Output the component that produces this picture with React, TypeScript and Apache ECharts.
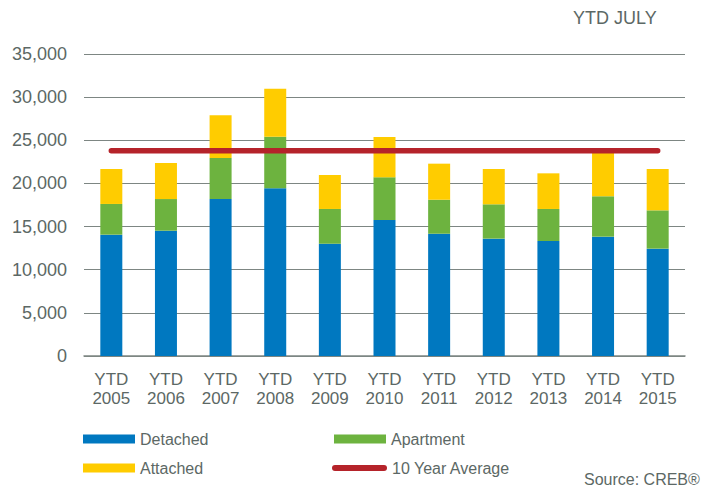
import React, { useEffect, useRef } from "react";
import * as echarts from "echarts";

const years = ["2005", "2006", "2007", "2008", "2009", "2010", "2011", "2012", "2013", "2014", "2015"];
const detached = [14060, 14520, 18190, 19430, 13010, 15760, 14170, 13600, 13330, 13830, 12440];
const apartment = [3560, 3670, 4760, 5980, 4030, 4950, 3940, 3980, 3710, 4680, 4440];
const attached = [4050, 4180, 4940, 5570, 3940, 4670, 4180, 4090, 4130, 5190, 4790];
const tenYearAverage = [23800, 23800, 23800, 23800, 23800, 23800, 23800, 23800, 23800, 23800, 23800];
const yTicks = { min: 0, max: 35000, interval: 5000 };

const TEXT = "#5c6865";
const FONT = "Liberation Sans, Arial, sans-serif";

export default function App() {
  const ref = useRef<HTMLDivElement>(null);
  useEffect(() => {
    if (!ref.current) return;
    const chart = echarts.init(ref.current, null, { renderer: "svg" });
    const legendBase = {
      orient: "horizontal" as const,
      padding: 0,
      itemWidth: 52,
      itemHeight: 9,
      textStyle: { color: TEXT, fontSize: 16, fontFamily: FONT },
      selectedMode: false,
    };
    chart.setOption({
      animation: false,
      backgroundColor: "#ffffff",
      textStyle: { fontFamily: FONT },
      title: [
        { text: "YTD JULY", left: 568, top: 4, textStyle: { color: TEXT, fontSize: 18, fontWeight: "normal", fontFamily: FONT } },
        { text: "Source: CREB®", left: 579, top: 466, textStyle: { color: TEXT, fontSize: 16, fontWeight: "normal", fontFamily: FONT } },
      ],
      legend: [
        { ...legendBase, data: [{ name: "Detached", icon: "rect" }], left: 83, top: 431 },
        { ...legendBase, data: [{ name: "Apartment", icon: "rect" }], left: 334, top: 431 },
        { ...legendBase, data: [{ name: "Attached", icon: "rect" }], left: 83, top: 460 },
        {
          ...legendBase,
          itemWidth: 55,
          itemHeight: 6,
          data: [{ name: "10 Year Average", icon: "path://M3,0 L52,0 A3,3 0 0 1 52,6 L3,6 A3,3 0 0 1 3,0 Z" }],
          left: 332,
          top: 460,
        },
      ],
      grid: { left: 84, right: 25, top: 54, bottom: 131 },
      xAxis: {
        type: "category",
        data: years,
        axisTick: { show: false },
        axisLine: { show: true, lineStyle: { color: "#7d8683", width: 1.5 } },
        axisLabel: {
          color: TEXT,
          fontSize: 17,
          lineHeight: 19,
          margin: 14,
          interval: 0,
          fontFamily: FONT,
          formatter: (v: string) => `YTD\n${v}`,
        },
      },
      yAxis: {
        type: "value",
        min: yTicks.min,
        max: yTicks.max,
        interval: yTicks.interval,
        axisLine: { show: false },
        axisTick: { show: false },
        splitLine: { lineStyle: { color: "#7d8683", width: 1.2 } },
        axisLabel: {
          color: TEXT,
          fontSize: 18,
          margin: 17,
          fontFamily: FONT,
          formatter: (v: number) => v.toLocaleString("en-US"),
        },
      },
      series: [
        { name: "Detached", type: "bar", stack: "total", data: detached, barWidth: 22, itemStyle: { color: "#0078c0" } },
        { name: "Apartment", type: "bar", stack: "total", data: apartment, barWidth: 22, itemStyle: { color: "#6db33f" } },
        { name: "Attached", type: "bar", stack: "total", data: attached, barWidth: 22, itemStyle: { color: "#ffcc00" } },
        {
          name: "10 Year Average",
          type: "line",
          data: tenYearAverage,
          symbol: "none",
          z: 5,
          itemStyle: { color: "#b5232a" },
          lineStyle: { color: "#b5232a", width: 5.5, cap: "round" },
        },
      ],
    });
    return () => chart.dispose();
  }, []);
  return <div ref={ref} style={{ width: 710, height: 487, position: "absolute", left: 0, top: 0 }} />;
}
